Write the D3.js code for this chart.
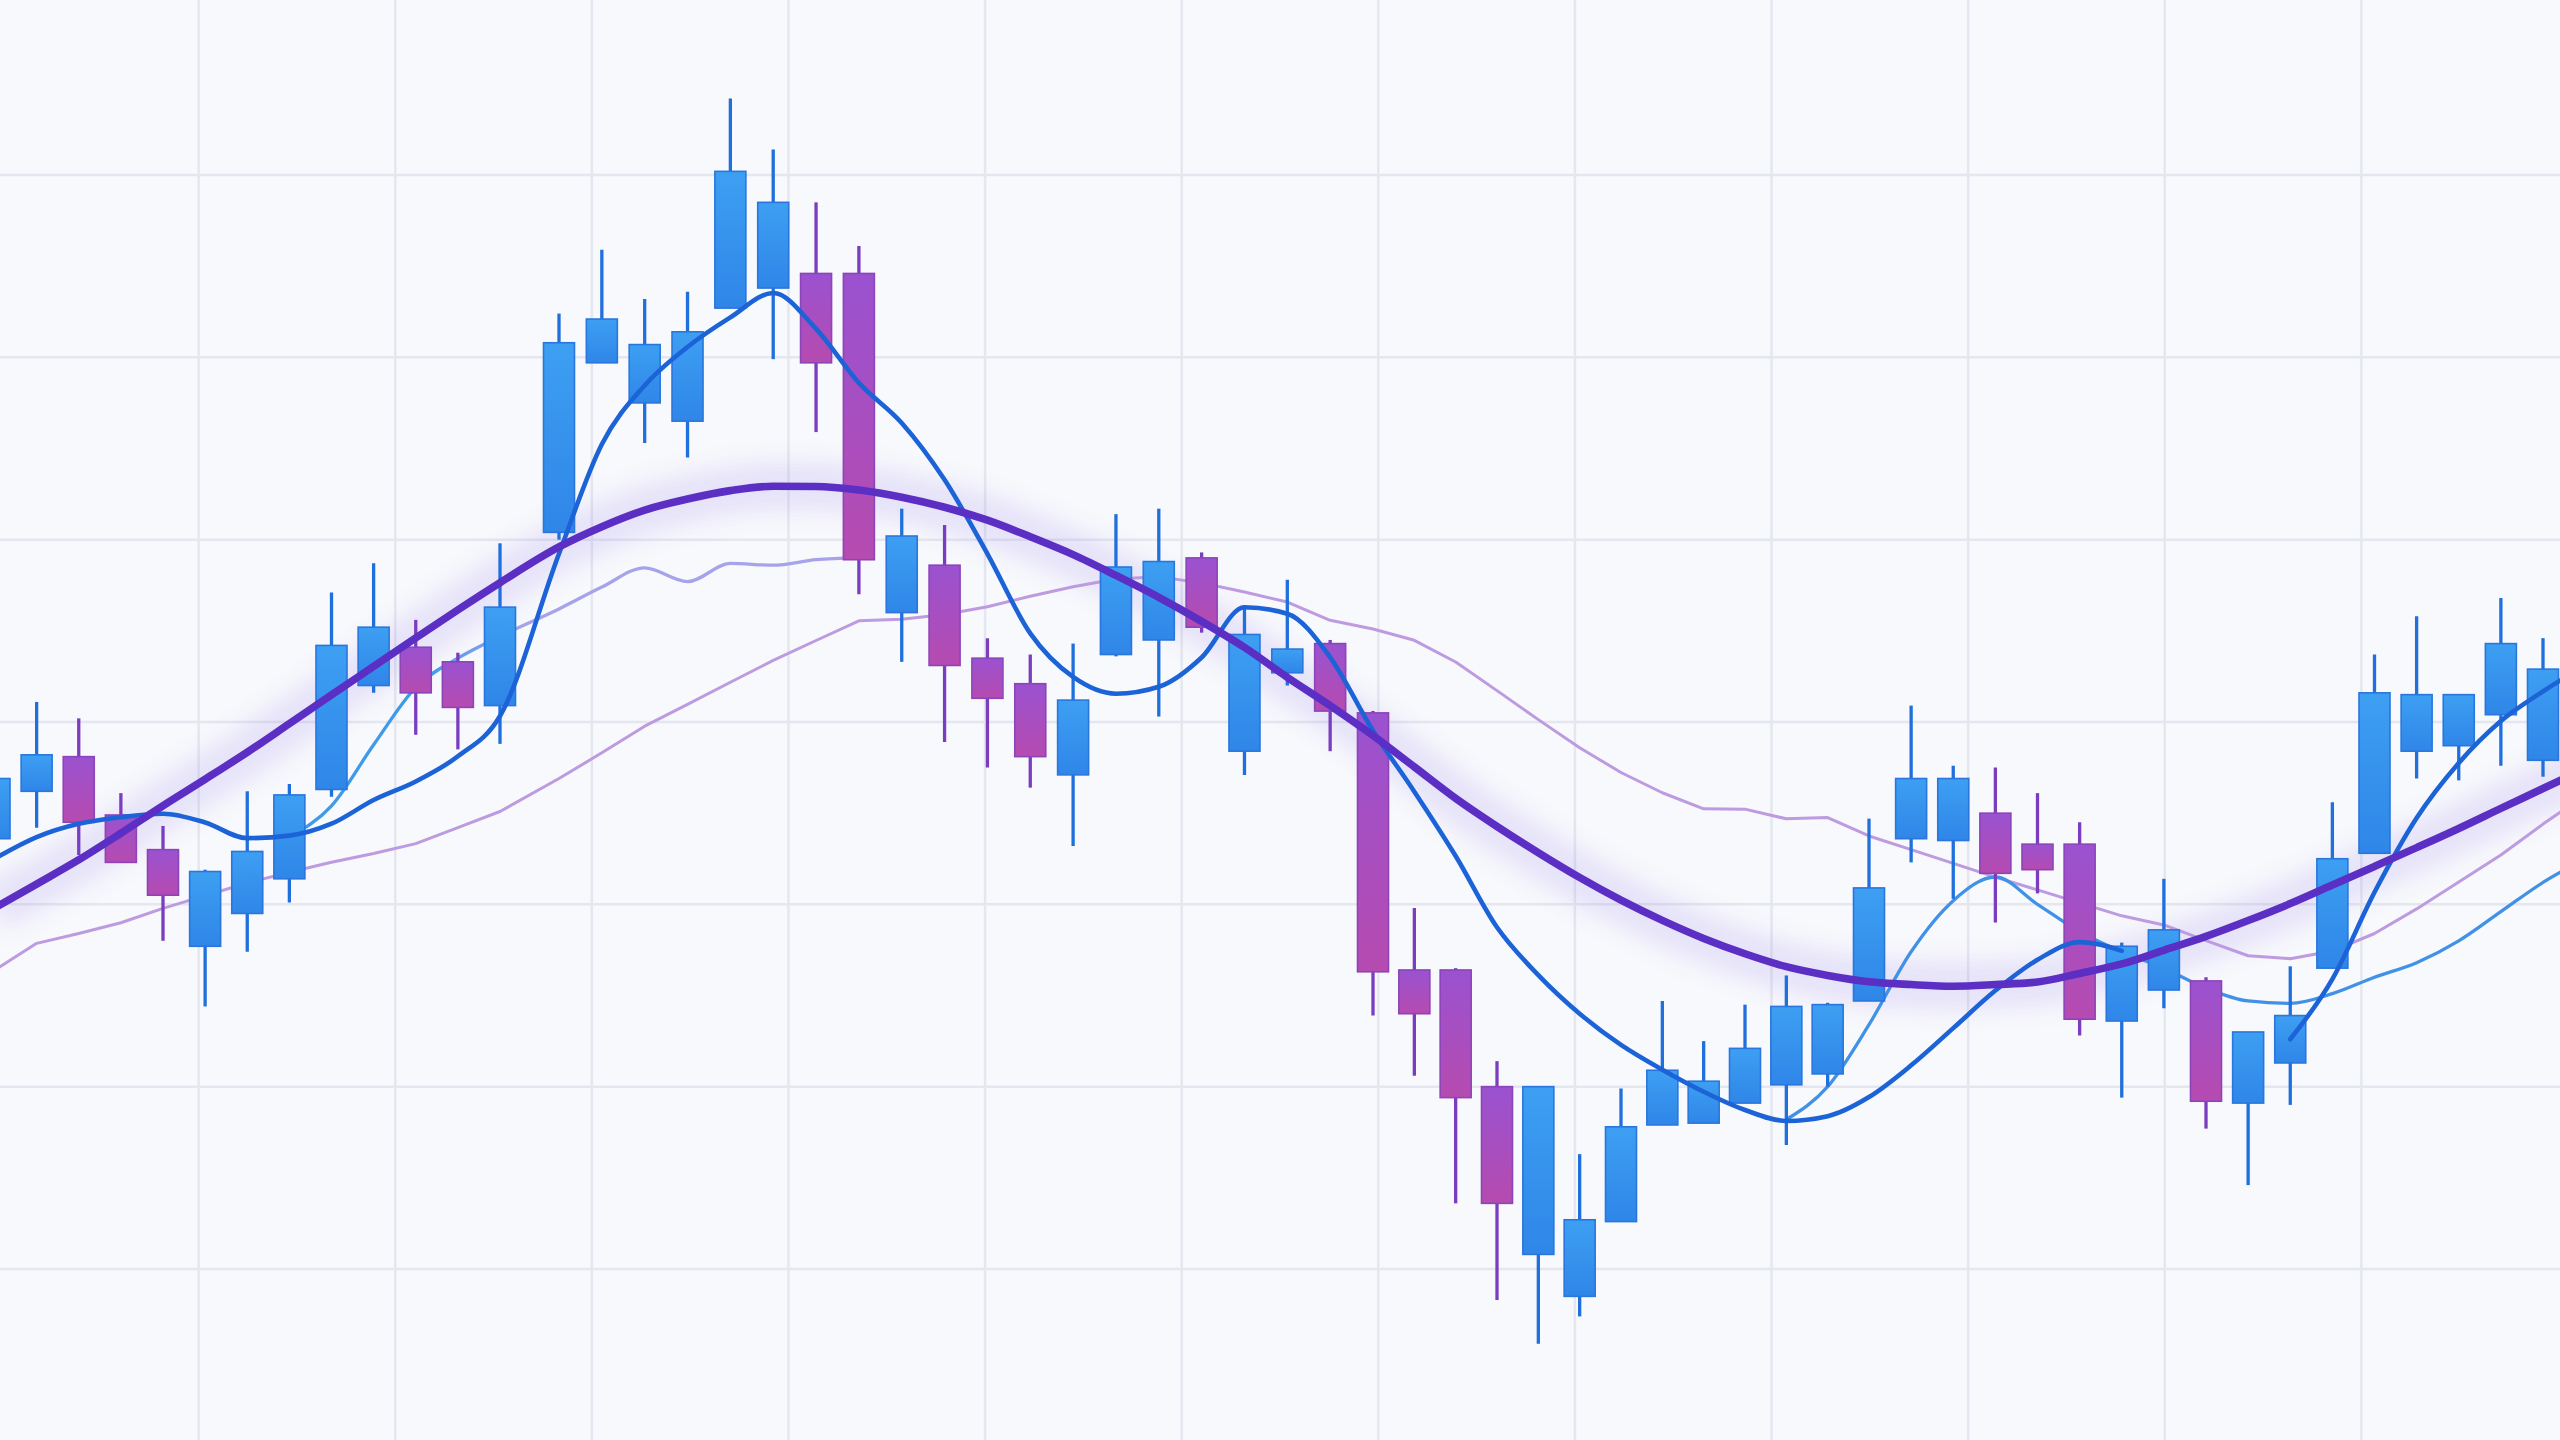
<!DOCTYPE html>
<html>
<head>
<meta charset="utf-8">
<title>Candlestick chart</title>
<script src="https://cdn.jsdelivr.net/npm/d3@7"></script>
<style>
  html, body { margin: 0; padding: 0; background: #f8f9fc; overflow: hidden; }
  svg { display: block; }
</style>
</head>
<body>
<div id="chart"></div>
<script>
// candles, one entry per session
const opens  = [123.6,126.2,128.1,124.9,123.0,117.7,119.5,121.4,126.3,132.0,
                134.1,133.3,130.9,140.4,149.7,147.5,146.5,152.7,153.8,154.6,
                154.6,136.0,138.6,133.5,132.1,127.1,133.7,134.5,139.0,128.4,
                132.7,134.3,130.5,116.4,116.4,110.0,100.8,98.5,102.6,107.9,
                108.0,109.1,110.1,110.7,114.7,123.6,123.5,125.0,123.3,123.3,
                113.6,115.3,115.8,109.1,111.3,116.5,122.8,128.4,128.7,130.4,
                127.9];
const highs  = [127.3,131.1,130.2,126.1,124.3,121.9,126.2,126.6,137.1,138.7,
                135.6,133.8,139.8,152.4,155.9,153.2,153.6,164.2,161.4,158.5,
                156.1,141.7,140.8,134.6,133.7,134.3,141.4,141.7,139.3,136.4,
                137.8,134.5,130.6,119.8,116.5,111.4,110.0,106.3,109.9,114.7,
                112.5,114.5,116.1,114.6,124.7,130.9,127.6,127.5,126.1,124.5,
                117.9,121.4,116.0,113.0,116.6,125.6,133.7,135.8,131.5,136.8,
                134.6];
const lows   = [123.2,124.2,122.7,122.3,118.0,114.4,117.4,120.1,125.9,131.6,
                129.3,128.5,128.8,140.0,149.7,145.3,144.5,152.7,149.9,145.9,
                137.0,133.3,128.9,127.5,126.4,123.2,133.6,130.3,134.9,127.1,
                132.0,128.4,113.9,110.6,103.6,98.3,95.9,97.4,102.6,107.9,
                108.0,109.1,106.8,110.0,114.7,122.3,120.3,119.0,120.6,112.8,
                109.4,114.3,107.7,104.6,109.0,116.5,122.8,126.9,126.8,127.6,
                127.0];
const closes = [126.9,128.2,124.5,122.3,120.5,121.8,122.9,126.0,134.2,135.2,
                131.6,130.8,136.3,150.8,152.1,150.7,151.4,160.2,158.5,149.7,
                138.9,140.2,133.1,131.3,128.1,131.2,138.5,138.8,135.2,134.8,
                134.0,130.6,116.3,114.0,109.4,103.6,110.0,102.7,107.8,110.9,
                110.3,112.1,114.4,114.5,120.9,126.9,126.9,121.7,121.9,113.7,
                117.7,118.6,109.2,113.0,113.9,122.5,131.6,131.5,131.5,134.3,
                132.9];

// averages, one value per session plus one past the last candle (line runs to the edge)
// null = not drawn in the picture
const maSlow = [119.80,121.11,122.44,123.90,125.41,126.86,128.34,129.91,131.49,133.05,
                134.61,136.15,137.64,139.60,140.71,141.62,142.23,142.69,142.93,142.92,
                142.72,142.33,141.78,141.07,140.16,139.18,138.04,136.84,135.52,134.09,
                132.45,130.90,129.26,127.54,125.81,124.27,122.83,121.47,120.23,119.12,
                118.13,117.29,116.58,116.10,115.75,115.60,115.51,115.60,115.74,116.21,
                116.73,117.48,118.24,119.11,120.04,121.06,122.08,123.11,124.16,125.26,
                126.35,127.45];
const maFast = [122.50,123.69,124.42,124.78,124.97,124.49,123.63,123.77,124.42,125.72,
                126.74,128.12,130.33,139.23,145.23,148.46,150.57,152.19,153.53,151.56,
                148.60,146.40,143.28,139.22,134.86,132.47,131.55,131.93,133.54,136.29,
                135.94,133.55,129.52,126.18,122.65,118.74,116.12,114.00,112.29,110.93,
                109.72,108.72,108.12,108.38,109.43,111.17,113.21,115.27,116.96,117.93,
                117.45,null,null,null,112.60,115.90,120.66,124.73,127.75,130.05,
                131.68,133.10];
const maMid  = [null,null,null,null,null,null,null,123.7,125.4,128.75,
                131.9,133.5,134.7,136.2,137.4,138.45,137.7,138.7,138.6,138.9,
                139.0,null,null,null,null,null,null,null,null,null,
                null,null,null,null,null,null,null,null,null,null,
                null,null,108.2,110.0,113.4,117.4,120.2,121.5,120.0,118.5,
                117.4,116.5,115.4,114.7,114.57,115.1,116.0,116.8,118.0,119.6,
                121.2,122.5];
const maLong = [116.38,117.86,118.40,118.99,119.78,120.48,121.17,121.76,122.31,122.79,
                123.33,124.21,125.09,126.90,128.31,129.77,130.97,132.18,133.38,134.47,
                135.55,135.64,135.90,136.32,136.90,137.42,137.84,137.96,137.63,137.13,
                136.58,135.58,135.10,134.48,133.29,131.72,130.13,128.59,127.23,126.12,
                125.24,125.22,124.69,124.76,123.75,123.00,122.25,121.49,120.79,120.08,
                119.37,118.87,118.01,117.18,117.02,117.44,118.40,119.75,121.22,122.71,
                124.40,126.00];

const priceTicks = [100, 110, 120, 130, 140, 150, 160];

const W = 2560, H = 1440;

const svg = d3.select('#chart')
  .append('svg')
  .attr('width', W)
  .attr('height', H);

const defs = svg.append('defs');

// body fills
const up = defs.append('linearGradient').attr('id', 'upFill')
  .attr('x1', 0).attr('y1', 0).attr('x2', 0).attr('y2', 1);
up.append('stop').attr('offset', 0).attr('stop-color', '#3d9ff2');
up.append('stop').attr('offset', 1).attr('stop-color', '#2f86e8');

const down = defs.append('linearGradient').attr('id', 'downFill')
  .attr('x1', 0).attr('y1', 0).attr('x2', 0).attr('y2', 1);
down.append('stop').attr('offset', 0).attr('stop-color', '#9a52d0');
down.append('stop').attr('offset', 1).attr('stop-color', '#b64bb0');

// light line goes blue -> periwinkle -> blue along x
const mid = defs.append('linearGradient').attr('id', 'midStroke')
  .attr('gradientUnits', 'userSpaceOnUse')
  .attr('x1', 0).attr('y1', 0).attr('x2', W).attr('y2', 0);
[[0, '#3f9aea'], [0.165, '#3f9aea'], [0.205, '#a7a3ea'], [0.6, '#a7a3ea'], [0.69, '#4192e6'], [1, '#4192e6']]
  .forEach(s => mid.append('stop').attr('offset', s[0]).attr('stop-color', s[1]));

const blur = defs.append('filter').attr('id', 'glow')
  .attr('x', '-10%').attr('y', '-50%').attr('width', '120%').attr('height', '200%');
blur.append('feGaussianBlur').attr('stdDeviation', 11);

svg.append('rect')
  .attr('width', W).attr('height', H)
  .attr('fill', '#f8f9fc');

// scales; sessions are not evenly spaced in the picture (wider gap after the 13th)
const x = d3.scaleLinear()
  .domain([0, 12, 13, 32, 44, 60])
  .range([-5.5, 500, 559, 1373, 1869, 2543]);
const y = d3.scaleLinear().domain([100, 160]).range([1269, 175]);
const gridX = d3.scaleLinear().domain([0, 13]).range([2, 2558]);

// grid
const grid = svg.append('g').attr('stroke', '#e4e7ef').attr('stroke-width', 2.5);
grid.selectAll('.h')
  .data(priceTicks)
  .enter()
  .append('line')
  .attr('x1', 0).attr('x2', W)
  .attr('y1', d => y(d)).attr('y2', d => y(d));
grid.selectAll('.v')
  .data(gridX.ticks(13).filter(t => t > 0 && t < 13))
  .enter()
  .append('line')
  .attr('y1', 0).attr('y2', H)
  .attr('x1', d => gridX(d)).attr('x2', d => gridX(d));

function lineGen(curve) {
  return d3.line()
    .defined(d => d != null)
    .x((d, i) => x(i))
    .y(d => y(d))
    .curve(curve);
}

// glow under the slow average
svg.append('path')
  .attr('d', lineGen(d3.curveMonotoneX)(maSlow))
  .attr('fill', 'none')
  .attr('stroke', '#7a5ce0')
  .attr('stroke-opacity', 0.14)
  .attr('stroke-width', 50)
  .attr('filter', 'url(#glow)');

// lines drawn under the candles
svg.append('path')
  .attr('d', lineGen(d3.curveLinear)(maLong))
  .attr('fill', 'none')
  .attr('stroke', '#bd9be0')
  .attr('stroke-width', 3)
  .attr('stroke-linejoin', 'round');

svg.append('path')
  .attr('d', lineGen(d3.curveMonotoneX)(maMid))
  .attr('fill', 'none')
  .attr('stroke', 'url(#midStroke)')
  .attr('stroke-width', 3.3)
  .attr('stroke-linejoin', 'round');

// candles
const candles = opens.map((o, i) => ({
  i: i, o: o, h: highs[i], l: lows[i], c: closes[i], up: closes[i] >= o
}));

const cg = svg.append('g');
const bodyW = 31;

cg.selectAll('.wick')
  .data(candles)
  .enter()
  .append('line')
  .attr('class', 'wick')
  .attr('x1', d => x(d.i)).attr('x2', d => x(d.i))
  .attr('y1', d => y(d.h)).attr('y2', d => y(d.l))
  .attr('stroke', d => d.up ? '#1f6fdc' : '#7b3dbf')
  .attr('stroke-width', 3.3);

cg.selectAll('.body')
  .data(candles)
  .enter()
  .append('rect')
  .attr('class', 'body')
  .attr('x', d => x(d.i) - bodyW / 2)
  .attr('width', bodyW)
  .attr('y', d => y(Math.max(d.o, d.c)))
  .attr('height', d => Math.max(2, Math.abs(y(d.o) - y(d.c))))
  .attr('fill', d => d.up ? 'url(#upFill)' : 'url(#downFill)')
  .attr('stroke', d => d.up ? '#2a76de' : '#8c44b9')
  .attr('stroke-width', 1.6);

// lines on top
svg.append('path')
  .attr('d', lineGen(d3.curveMonotoneX)(maFast))
  .attr('fill', 'none')
  .attr('stroke', '#1c63d7')
  .attr('stroke-width', 4.6)
  .attr('stroke-linecap', 'round')
  .attr('stroke-linejoin', 'round');

svg.append('path')
  .attr('d', lineGen(d3.curveMonotoneX)(maSlow))
  .attr('fill', 'none')
  .attr('stroke', '#5b2ec4')
  .attr('stroke-width', 7.6)
  .attr('stroke-linecap', 'round');
</script>
</body>
</html>
